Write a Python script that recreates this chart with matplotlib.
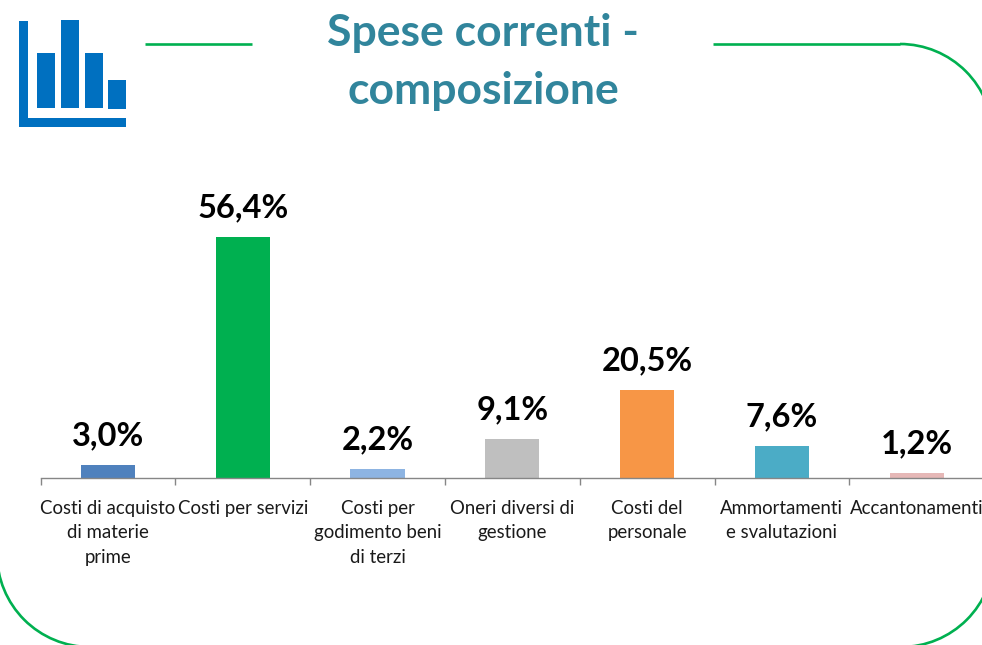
import matplotlib.pyplot as plt
from matplotlib.patches import Arc, Rectangle

W, H = 982, 645
categories = [
    "Costi di acquisto\ndi materie\nprime",
    "Costi per servizi",
    "Costi per\ngodimento beni\ndi terzi",
    "Oneri diversi di\ngestione",
    "Costi del\npersonale",
    "Ammortamenti\ne svalutazioni",
    "Accantonamenti",
]
values = [3.0, 56.4, 2.2, 9.1, 20.5, 7.6, 1.2]
colors = ["#4F81BD", "#00B050", "#8DB4E2", "#BFBFBF", "#F79646", "#4BACC6", "#E6B8B7"]

plt.rcParams['font.family'] = ['Lato', 'DejaVu Sans']
fig = plt.figure(figsize=(W / 100, H / 100), dpi=100)

# overlay in pixel coords for frame, icon and title
bg = fig.add_axes([0, 0, 1, 1])
bg.set_xlim(0, W)
bg.set_ylim(H, 0)
bg.axis('off')

green = "#00B050"
bg.plot([145, 252], [44, 44], color=green, lw=1.9, solid_capstyle='butt')
bg.plot([713, 900], [44, 44], color=green, lw=1.9, solid_capstyle='butt')
for cx, cy, t1, t2 in [(900, 137, 270, 360), (90, 554, 90, 180), (901, 554, 0, 90)]:
    bg.add_patch(Arc((cx, cy), 186, 186, theta1=t1, theta2=t2, color=green, lw=1.9))

# icon
blue = "#0070C0"
for x0, y0, x1, y1 in [(19, 20.5, 28.5, 127), (19, 117.5, 126, 127), (37, 53, 55, 108),
                       (61, 20, 79, 108), (85, 53, 103, 108), (108, 80, 126, 109)]:
    bg.add_patch(Rectangle((x0, y0), x1 - x0, y1 - y0, color=blue, lw=0))

bg.text(483, 33, "Spese correnti -", color="#31859C", fontsize=32, fontweight='bold', ha='center', va='center')
bg.text(483, 91, "composizione", color="#31859C", fontsize=32, fontweight='bold', ha='center', va='center')

# chart, right end runs just past the figure edge
ax = fig.add_axes([40.5 / W, (H - 478) / H, 943.6 / W, 299 / H])
ax.patch.set_alpha(0)
x = list(range(len(values)))
ax.bar(x, values, width=0.403, color=colors)
for xi, v in zip(x, values):
    ax.annotate(f"{v:.1f}%".replace(".", ","), (xi, v), xytext=(0, 21), textcoords='offset points',
                ha='center', va='center', fontsize=23.5, fontweight='bold', color='black')

ax.set_xlim(-0.5, 6.5)
ax.set_ylim(0, 70)
ax.set_yticks([])
ax.set_xticks(x)
ax.set_xticklabels(categories, fontsize=13.4, color="#1A1A1A", linespacing=1.54)
ax.set_xticks([i - 0.5 for i in x], minor=True)
ax.tick_params(axis='x', which='major', length=0, pad=15.5)
ax.tick_params(axis='x', which='minor', length=5, color="#868686", width=1)
for s in ['top', 'left', 'right']:
    ax.spines[s].set_visible(False)
ax.spines['bottom'].set_color("#868686")
ax.spines['bottom'].set_linewidth(1)

fig.savefig("out.png", dpi=100)
